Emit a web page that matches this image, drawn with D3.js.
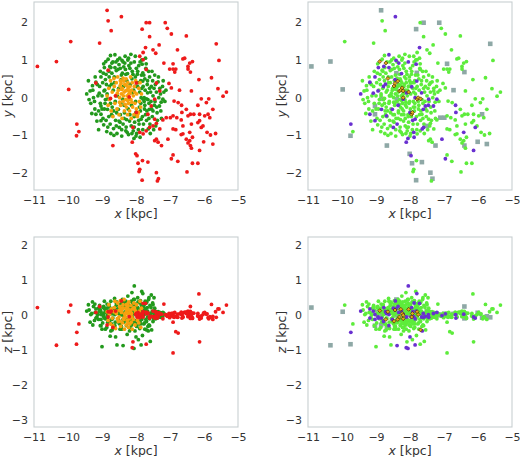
<!DOCTYPE html>
<html><head><meta charset="utf-8">
<script src="https://cdn.jsdelivr.net/npm/d3@7"></script>
<style>body{margin:0;background:#fff}svg{display:block;font-family:"DejaVu Sans",sans-serif}</style>
</head><body><svg id="c" width="520" height="457"></svg>
<script>
const xTicks = [-11,-10,-9,-8,-7,-6,-5];
const yTicks = [-2,-1,0,1,2];
const zTicks = [-3,-2,-1,0,1,2];

// stars: [x, y, z, class in right panels] ; L=lime, P=purple, S=grey square, D=diamond
const redStars = [
[-8.85,2.32,-0.28,'S'],[-8.43,2.15,0.41,'P'],[-8.82,2.04,0.10,'L'],[-8.73,1.78,0.12,'L'],
[-7.70,1.99,0.04,'L'],[-7.60,1.99,-0.05,'S'],[-7.14,1.99,0.02,'S'],[-7.82,1.82,0.06,'S'],
[-7.08,1.84,-0.03,'L'],[-6.96,1.69,0.05,'L'],[-6.52,1.64,0.08,'L'],[-7.60,1.62,-0.08,'L'],
[-9.07,1.45,0.25,'L'],[-9.92,1.49,0.29,'L'],[-10.34,0.96,-0.86,'S'],[-10.90,0.83,0.22,'S'],
[-5.64,1.43,-0.06,'S'],[-5.56,0.99,0.18,'L'],[-7.32,1.40,0.07,'L'],[-7.50,1.27,-0.04,'L'],
[-7.42,1.18,0.10,'L'],[-7.72,1.33,0.34,'P'],[-7.89,1.10,-0.02,'L'],[-6.78,1.27,0.03,'L'],
[-6.62,1.03,-0.06,'L'],[-6.57,1.05,0.09,'L'],[-6.42,0.92,0.04,'L'],[-6.34,0.96,-0.09,'L'],
[-6.47,0.83,0.12,'L'],[-6.91,0.90,0.02,'S'],[-7.18,0.92,0.32,'L'],[-7.01,0.76,-0.07,'L'],
[-6.91,0.76,0.06,'L'],[-6.83,0.76,-0.03,'L'],[-6.86,0.68,0.08,'L'],[-6.47,0.76,-0.04,'L'],
[-6.40,0.68,0.25,'S'],[-6.15,0.48,0.61,'L'],[-5.78,0.53,0.31,'L'],[-8.82,0.73,-0.05,'L'],
[-9.18,0.39,0.08,'L'],[-9.98,0.22,0.10,'S'],[-7.03,0.38,0.05,'L'],[-6.96,0.26,-0.02,'L'],
[-6.72,0.20,0.04,'S'],[-6.37,0.18,0.07,'L'],[-5.44,0.04,0.08,'L'],[-5.34,0.15,0.29,'L'],
[-5.59,0.24,0.18,'L'],[-6.08,-0.03,-0.02,'L'],[-5.86,-0.03,-0.10,'L'],[-5.93,-0.13,0.03,'L'],
[-6.76,-0.13,-0.51,'L'],[-6.66,-0.20,0.02,'P'],[-6.88,-0.09,-0.06,'L'],[-6.52,-0.31,0.05,'L'],
[-6.18,-0.20,-0.01,'L'],[-6.13,-0.44,-0.76,'L'],[-5.74,-0.31,-0.12,'L'],[-5.88,-0.44,-0.07,'S'],
[-6.30,-0.44,0.06,'L'],[-6.47,-0.48,-0.03,'L'],[-6.40,-0.44,0.11,'L'],[-6.65,-0.39,-0.08,'P'],
[-6.91,-0.48,-0.20,'L'],[-6.99,-0.53,0.04,'S'],[-6.80,-0.53,-0.05,'L'],[-6.67,-0.59,0.09,'L'],
[-7.11,-0.53,0.00,'S'],[-7.21,-0.59,-0.10,'L'],[-7.40,-0.68,0.07,'L'],[-7.45,-0.57,-0.03,'L'],
[-7.50,-0.75,0.12,'S'],[-7.60,-0.79,-0.06,'P'],[-7.30,-0.83,0.03,'L'],[-6.91,-0.83,-0.04,'L'],
[-6.62,-0.75,0.06,'L'],[-6.37,-0.70,-0.02,'L'],[-6.18,-0.66,0.05,'L'],[-6.08,-0.79,-0.08,'P'],
[-6.03,-0.75,0.02,'L'],[-5.83,-0.53,-0.04,'L'],[-5.98,-0.48,0.08,'L'],[-6.13,-0.61,-0.11,'L'],
[-5.91,-0.92,0.04,'L'],[-5.81,-0.99,-0.06,'L'],[-5.66,-0.95,0.10,'L'],[-5.74,-1.23,-0.03,'S'],
[-6.01,-1.17,0.07,'S'],[-6.13,-1.40,-0.05,'P'],[-6.42,-0.92,0.03,'P'],[-6.34,-1.05,-0.07,'L'],
[-6.52,-1.10,0.09,'L'],[-6.42,-1.14,-0.02,'L'],[-6.47,-1.20,0.05,'L'],[-6.40,-1.27,-0.09,'S'],
[-6.37,-1.34,0.02,'L'],[-6.62,-0.96,-0.04,'L'],[-6.67,-0.98,0.06,'L'],[-6.83,-0.85,-0.47,'L'],
[-7.06,-1.10,-0.01,'P'],[-7.40,-1.10,0.08,'L'],[-7.35,-1.18,-0.05,'L'],[-7.25,-1.27,0.03,'S'],
[-7.45,-1.14,-0.08,'L'],[-7.70,-0.88,-0.83,'L'],[-7.79,-0.96,0.10,'L'],[-7.89,-0.92,-0.04,'P'],
[-8.09,-0.79,-0.76,'L'],[-8.11,-1.18,-0.93,'P'],[-8.68,-1.27,-0.35,'S'],[-6.91,-1.52,-1.08,'L'],
[-6.96,-1.62,0.04,'P'],[-6.77,-1.69,-0.06,'L'],[-6.34,-1.74,0.05,'L'],[-6.18,-1.74,-0.03,'L'],
[-6.50,-1.97,0.07,'L'],[-8.01,-1.49,0.02,'S'],[-7.97,-1.54,-0.05,'P'],[-7.94,-1.74,0.08,'S'],
[-7.81,-1.67,-0.02,'L'],[-7.65,-1.71,0.05,'S'],[-7.89,-1.90,-0.07,'L'],[-7.91,-1.96,0.03,'L'],
[-7.40,-1.99,-0.04,'S'],[-7.34,-2.15,0.06,'S'],[-7.37,-2.21,-0.08,'L'],[-7.82,-2.19,0.01,'S'],
[-9.74,-0.70,-0.49,'P'],[-9.68,-0.90,-0.25,'L'],[-9.75,-1.01,-0.83,'S'],[-7.99,-0.39,0.05,'L'],
[-7.55,-0.22,-0.03,'P'],[-7.65,-0.44,0.07,'L'],[-7.45,-0.04,-0.06,'P'],[-7.30,0.18,0.04,'L'],
[-7.40,0.39,-0.02,'L'],[-7.70,0.75,0.09,'L'],[-7.79,1.01,-0.05,'L'],[-7.99,0.39,0.02,'L'],
[-7.79,1.20,0.34,'L'],[-8.60,0.05,0.12,'L'],[-8.75,-0.02,0.09,'L'],[-8.20,0.02,-0.04,'L']
];

const greenStars = [
[-9.45,0.10,0.12,'P'],[-9.40,0.45,0.30,'L'],[-9.35,0.18,-0.20,'L'],[-9.30,-0.42,0.05,'L'],
[-9.28,0.32,0.38,'L'],[-9.22,-0.10,-0.15,'L'],[-9.20,0.55,0.08,'L'],[-9.15,-0.62,-0.05,'L'],
[-9.10,-0.85,0.20,'L'],[-9.12,0.05,0.02,'L'],[-9.05,0.70,0.15,'L'],[-9.03,-0.44,-0.30,'S'],
[-9.03,-0.22,0.10,'S'],[-9.00,-0.30,-0.90,'L'],[-8.98,0.40,-0.22,'L'],[-8.95,0.90,0.25,'L'],
[-8.95,-0.72,0.05,'L'],[-8.92,0.20,0.18,'L'],[-8.90,-0.05,-0.10,'L'],[-8.88,0.62,0.08,'L'],
[-8.86,-0.90,-0.35,'L'],[-8.84,-0.03,0.00,'S'],[-8.82,1.02,0.12,'L'],[-8.80,-0.50,0.28,'L'],
[-8.78,0.30,-0.18,'P'],[-8.76,-0.70,-0.60,'L'],[-8.75,1.12,0.05,'L'],[-8.74,0.80,0.40,'L'],
[-8.72,0.36,0.10,'P'],[-8.70,-0.25,-0.42,'L'],[-8.68,0.95,-0.08,'L'],[-8.66,-0.82,0.16,'L'],
[-8.64,0.55,0.22,'L'],[-8.62,1.14,0.02,'P'],[-8.60,-0.60,-0.62,'L'],[-8.58,0.72,0.35,'L'],
[-8.56,-0.95,-0.85,'L'],[-8.55,0.05,0.14,'L'],[-8.52,-0.31,-0.12,'P'],[-8.50,0.88,0.06,'L'],
[-8.49,-0.79,0.20,'P'],[-8.48,1.05,-0.25,'L'],[-8.46,-0.45,0.32,'L'],[-8.44,0.48,0.15,'P'],
[-8.42,-1.02,-0.40,'L'],[-8.41,0.99,0.18,'P'],[-8.40,0.65,0.45,'S'],[-8.38,-0.70,-0.87,'P'],
[-8.36,0.82,-0.20,'L'],[-8.35,-0.20,0.25,'P'],[-8.33,0.92,0.08,'P'],[-8.32,1.10,0.30,'L'],
[-8.30,-0.88,0.10,'L'],[-8.28,-0.58,-0.30,'L'],[-8.25,0.64,0.12,'P'],[-8.24,1.00,0.55,'L'],
[-8.22,-0.98,-0.15,'L'],[-8.20,-0.04,0.03,'P'],[-8.18,0.78,-0.35,'L'],[-8.15,1.15,0.20,'L'],
[-8.14,-0.75,0.40,'L'],[-8.12,0.50,0.65,'L'],[-8.10,0.13,-0.05,'P'],[-8.05,0.95,0.84,'P'],
[-8.06,-1.08,-0.95,'P'],[-8.05,-0.50,0.15,'L'],[-8.03,0.30,-0.45,'L'],[-8.00,-0.39,-0.62,'P'],
[-7.96,0.62,0.10,'L'],[-7.95,0.29,0.22,'P'],[-7.93,-0.85,-0.70,'L'],[-7.92,0.85,0.15,'L'],
[-7.90,-0.25,0.05,'L'],[-7.88,-1.05,0.35,'P'],[-7.86,0.45,-0.25,'L'],[-7.85,0.00,-0.10,'P'],
[-7.85,-0.57,-0.85,'P'],[-7.83,1.00,0.68,'L'],[-7.82,0.89,0.12,'P'],[-7.80,0.44,0.62,'P'],
[-7.80,0.66,0.18,'S'],[-7.78,-0.70,0.25,'L'],[-7.75,-0.30,-0.22,'L'],[-7.73,0.20,0.40,'L'],
[-7.71,0.78,-0.12,'L'],[-7.66,0.13,-0.05,'P'],[-7.64,-0.83,-0.45,'P'],[-7.62,-0.15,0.50,'L'],
[-7.61,-0.31,0.05,'P'],[-7.60,0.55,-0.30,'L'],[-7.58,-0.95,-0.75,'L'],[-7.55,0.30,0.58,'L'],
[-7.52,-0.50,0.12,'L'],[-7.50,0.05,-0.18,'L'],[-7.46,-0.20,0.02,'P'],[-7.45,0.60,0.20,'L'],
[-7.42,-0.75,-0.10,'L'],[-7.40,0.15,0.08,'L'],[-7.38,-0.40,-0.08,'L'],[-7.35,0.42,0.10,'L'],
[-7.31,-0.22,0.05,'P'],[-7.28,0.10,-0.06,'L'],[-7.25,-0.55,0.07,'L'],[-7.22,0.30,-0.05,'L'],
[-7.21,-0.04,0.08,'P'],[-7.15,-0.10,0.02,'L'],
[-9.25,0.00,0.25,'L'],[-9.18,0.41,-0.08,'P'],[-9.18,-0.44,0.18,'P'],[-9.08,0.12,0.12,'P'],
[-9.05,-0.15,-0.30,'L'],[-9.03,0.55,0.02,'P'],[-9.03,-0.61,-0.12,'P'],[-8.94,0.18,-0.05,'P'],
[-8.93,-0.30,0.40,'L'],[-8.90,0.48,-0.40,'L'],[-8.88,-0.60,0.12,'L'],[-8.85,0.10,0.32,'L'],
[-8.84,-0.31,-0.08,'P'],[-8.80,0.70,-0.15,'L'],[-8.77,0.83,0.22,'P'],[-8.75,-0.15,0.18,'L'],
[-8.72,-0.45,-0.25,'L'],[-8.69,-0.48,0.05,'P'],[-8.67,0.20,-0.30,'L'],[-8.63,0.40,0.48,'L'],
[-8.61,-0.10,-0.20,'L'],[-8.59,0.95,0.15,'L'],[-8.57,-0.40,0.38,'L'],[-8.53,0.75,-0.10,'L'],
[-8.51,0.25,0.05,'L'],[-8.47,-0.65,-0.40,'L'],[-8.45,-0.15,0.22,'L'],[-8.43,0.60,-0.32,'L'],
[-8.39,-0.04,0.00,'S'],[-8.37,0.30,0.35,'L'],[-8.34,-0.40,-0.15,'L'],[-8.31,0.75,0.25,'L'],
[-8.29,-0.78,0.08,'L'],[-8.27,0.45,-0.12,'L'],[-8.23,-0.30,0.30,'L'],[-8.21,0.85,-0.22,'L'],
[-8.19,-0.62,-0.45,'L'],[-8.17,0.35,0.18,'L'],[-8.13,-0.20,-0.28,'L'],[-8.11,0.70,0.30,'L'],
[-8.08,-0.88,0.05,'L'],[-8.07,0.20,0.45,'L'],[-8.04,-0.65,-0.15,'L'],[-8.02,0.55,0.05,'L'],
[-8.01,-0.10,0.32,'L'],[-7.99,0.78,-0.30,'L'],[-7.97,-0.45,0.20,'L'],[-7.94,0.40,0.38,'L'],
[-7.91,-0.70,-0.25,'L'],[-7.89,0.15,-0.38,'L'],[-7.87,-0.35,0.42,'L'],[-7.84,0.60,0.28,'L'],
[-7.81,-0.50,-0.58,'L'],[-7.79,0.30,0.05,'L'],[-7.76,-0.10,0.30,'L'],[-7.74,0.50,-0.40,'L'],
[-7.72,-0.45,0.18,'L'],[-7.70,0.90,0.35,'L'],[-7.69,-0.60,-0.18,'L'],[-7.67,0.35,0.22,'L'],
[-7.65,-0.05,-0.32,'L'],[-7.63,0.70,0.45,'L'],[-7.59,-0.70,0.28,'L'],[-7.57,0.15,0.02,'L'],
[-7.54,-0.30,-0.42,'L'],[-7.51,0.45,0.35,'L'],[-7.48,-0.85,-0.10,'L'],[-7.47,0.25,0.50,'L'],
[-7.44,-0.10,0.12,'L'],[-7.37,-0.60,0.06,'L'],[-7.33,0.00,-0.05,'L'],[-7.30,0.25,0.08,'L'],
[-7.27,-0.35,0.04,'L'],[-7.18,0.15,0.05,'L'],
[-9.33,-0.15,0.02,'L'],[-9.27,0.20,-0.28,'L'],[-9.21,-0.30,0.32,'L'],[-9.14,0.35,0.05,'L'],
[-9.10,-0.35,-0.12,'L'],[-9.07,0.30,0.28,'L'],[-9.00,0.05,-0.40,'L'],[-8.97,-0.55,0.22,'L'],
[-8.96,0.65,-0.02,'L'],[-8.91,-0.15,0.08,'L'],[-8.87,0.35,0.20,'L'],[-8.83,-0.78,-0.20,'L'],
[-8.79,0.55,0.30,'L'],[-8.74,-0.95,-0.45,'L'],[-8.71,0.65,0.05,'L'],[-8.66,-0.35,0.12,'L'],
[-8.62,0.80,-0.30,'P'],[-8.58,-0.75,0.28,'L'],[-8.54,1.00,0.18,'L'],[-8.50,-0.62,-0.22,'L'],
[-8.46,0.78,0.02,'L'],[-8.42,-0.85,0.35,'L'],[-8.38,0.95,-0.12,'L'],[-8.35,-0.55,0.05,'L'],
[-8.30,0.62,0.40,'L'],[-8.26,-0.92,-0.55,'L'],[-8.22,1.05,0.10,'L'],[-8.18,-0.45,0.25,'L'],
[-8.15,0.92,-0.15,'L'],[-8.12,-0.95,0.12,'L'],[-8.09,0.62,-0.22,'L'],[-8.05,-0.78,0.45,'L'],
[-8.02,1.10,0.25,'L'],[-7.98,-0.95,-0.32,'L'],[-7.95,0.70,0.50,'L'],[-7.92,-0.60,0.10,'P'],
[-7.88,0.95,-0.18,'L'],[-7.86,-0.15,0.18,'L'],[-7.83,0.25,-0.12,'L'],[-7.80,-0.85,0.20,'L'],
[-7.77,0.60,-0.25,'L'],[-7.74,-0.20,0.05,'L'],[-7.72,1.05,0.15,'L'],[-7.68,-0.35,0.38,'L'],
[-7.66,0.45,0.12,'L'],[-7.62,-0.55,-0.28,'L'],[-7.60,0.25,-0.10,'L'],[-7.56,-0.10,0.22,'L'],
[-7.53,0.70,0.08,'L'],[-7.50,-0.35,0.30,'L'],[-7.43,0.35,-0.05,'L'],[-7.39,-0.25,0.06,'L'],
[-7.34,0.55,0.04,'L'],[-7.26,-0.12,-0.03,'L'],[-7.20,0.45,0.06,'L'],[-7.12,0.20,0.02,'L'],
[-8.93,0.80,-0.08,'P'],[-9.38,-0.05,0.15,'L'],[-8.65,-1.00,0.05,'L'],[-8.00,-1.02,-0.20,'L'],
[-8.89,0.96,0.13,'D'],[-8.71,0.92,-0.12,'D'],[-7.79,-0.04,0.10,'D'],[-7.76,0.00,0.02,'D'],
[-7.69,-0.03,-0.42,'D']
];

const orangeStars = [
[-8.85,0.05,0.10,'L'],[-8.82,-0.20,-0.15,'L'],[-8.80,0.25,0.30,'L'],[-8.78,-0.05,0.02,'L'],
[-8.75,0.45,-0.25,'L'],[-8.73,-0.35,0.18,'L'],[-8.70,0.15,-0.08,'L'],[-8.68,-0.50,-0.30,'L'],
[-8.65,0.51,0.10,'D'],[-8.64,0.30,0.22,'L'],[-8.62,-0.15,0.40,'L'],[-8.60,0.05,-0.38,'L'],
[-8.58,0.40,0.05,'L'],[-8.56,-0.30,0.12,'L'],[-8.54,0.55,0.35,'L'],[-8.52,0.20,-0.18,'L'],
[-8.50,-0.45,-0.05,'L'],[-8.48,0.00,0.25,'L'],[-8.47,0.31,-0.17,'D'],[-8.46,0.45,0.42,'L'],
[-8.45,-0.20,-0.32,'L'],[-8.44,0.38,0.15,'D'],[-8.43,0.10,0.08,'L'],[-8.41,-0.55,0.20,'L'],
[-8.40,0.25,-0.22,'L'],[-8.38,-0.10,0.30,'L'],[-8.36,0.44,-0.12,'D'],[-8.35,0.15,0.45,'L'],
[-8.34,-0.35,-0.40,'L'],[-8.33,0.35,0.02,'L'],[-8.31,0.18,-0.05,'D'],[-8.30,-0.05,0.20,'L'],
[-8.29,0.50,-0.28,'L'],[-8.28,-0.25,0.10,'L'],[-8.27,0.20,0.17,'D'],[-8.26,0.05,-0.15,'L'],
[-8.25,-0.45,0.32,'L'],[-8.24,0.40,0.25,'L'],[-8.23,0.26,0.05,'D'],[-8.22,-0.15,-0.35,'L'],
[-8.21,0.10,0.38,'L'],[-8.20,0.18,-0.10,'D'],[-8.20,0.00,0.00,'D'],[-8.19,-0.35,0.15,'L'],
[-8.18,0.30,-0.25,'L'],[-8.16,0.55,0.12,'L'],[-8.15,-0.05,0.28,'L'],[-8.14,-0.55,-0.20,'L'],
[-8.13,0.20,0.05,'L'],[-8.11,0.40,-0.40,'L'],[-8.10,-0.25,0.18,'L'],[-8.08,0.05,-0.12,'L'],
[-8.06,-0.45,0.35,'L'],[-8.05,0.30,0.22,'L'],[-8.04,0.15,0.17,'D'],[-8.03,-0.15,-0.28,'L'],
[-8.01,0.45,0.10,'L'],[-7.99,-0.30,0.02,'L'],[-7.98,0.10,0.30,'L'],[-7.96,-0.50,-0.15,'L'],
[-7.95,-0.44,-0.05,'D'],[-7.93,-0.39,0.05,'D'],[-7.92,0.25,-0.22,'L'],[-7.90,-0.10,0.12,'L'],
[-7.88,0.40,0.40,'L'],[-7.86,-0.25,-0.35,'L'],[-7.84,0.10,0.20,'L'],
[-8.42,0.22,0.12,'L'],[-8.37,0.05,-0.08,'L'],[-8.32,-0.18,0.05,'L'],[-8.28,0.32,0.30,'L'],
[-8.24,-0.08,-0.22,'L'],[-8.17,0.12,0.10,'L'],[-8.12,-0.12,-0.05,'L'],[-8.48,-0.12,0.15,'L'],
[-8.55,0.12,-0.10,'L'],[-8.38,0.52,0.20,'L']
];

const leftColor = {red:'#ee1a1a', green:'#22991c', orange:'#f6a10f'};
const rightColor = {L:'#5dec3b', P:'#6930d0', S:'#8ea8a6', D:'#e3a51c'};

const svg = d3.select('#c');
const frameColor = '#c8cfd1';
const textColor = '#333';

const panels = [
  {x0:34, x1:238, y0:2, y1:190, dim:1, dom:[-2.45,2.54], ticks:yTicks, lab:'y', side:'left'},
  {x0:308, x1:512, y0:2, y1:190, dim:1, dom:[-2.45,2.54], ticks:yTicks, lab:'y', side:'right'},
  {x0:34, x1:238, y0:237, y1:427, dim:2, dom:[-3.2,2.24], ticks:zTicks, lab:'z', side:'left'},
  {x0:308, x1:512, y0:237, y1:427, dim:2, dom:[-3.2,2.24], ticks:zTicks, lab:'z', side:'right'}
];
const fmt = d3.format('d');

panels.forEach((p,i) => {
  const x = d3.scaleLinear().domain([-11,-5]).range([p.x0,p.x1]);
  const y = d3.scaleLinear().domain(p.dom).range([p.y1,p.y0]);
  const g = svg.append('g');
  const cid = 'clip'+i;
  svg.append('clipPath').attr('id',cid).append('rect')
    .attr('x',p.x0).attr('y',p.y0).attr('width',p.x1-p.x0).attr('height',p.y1-p.y0);
  const pg = g.append('g').attr('clip-path',`url(#${cid})`);
  const r = 1.9;
  if (p.side==='left') {
    [['green',greenStars],['orange',orangeStars],['red',redStars]].forEach(([c,arr]) => {
      pg.selectAll(null).data(arr).enter().append('circle')
        .attr('cx',d=>x(d[0])).attr('cy',d=>y(d[p.dim])).attr('r',r)
        .attr('fill',leftColor[c]);
    });
  } else {
    const all = greenStars.concat(orangeStars, redStars);
    const sq = 4.6;
    pg.selectAll(null).data(all.filter(d=>d[3]==='S')).enter().append('rect')
      .attr('x',d=>x(d[0])-sq/2).attr('y',d=>y(d[p.dim])-sq/2).attr('width',sq).attr('height',sq)
      .attr('fill',rightColor.S);
    pg.selectAll(null).data(all.filter(d=>d[3]==='L')).enter().append('circle')
      .attr('cx',d=>x(d[0])).attr('cy',d=>y(d[p.dim])).attr('r',r).attr('fill',rightColor.L);
    pg.selectAll(null).data(all.filter(d=>d[3]==='P')).enter().append('circle')
      .attr('cx',d=>x(d[0])).attr('cy',d=>y(d[p.dim])).attr('r',r).attr('fill',rightColor.P);
    const dm = d3.symbol().type(d3.symbolSquare).size(8);
    pg.selectAll(null).data(all.filter(d=>d[3]==='D')).enter().append('path')
      .attr('d',dm)
      .attr('transform',d=>`translate(${x(d[0])},${y(d[p.dim])}) rotate(45)`)
      .attr('fill',rightColor.D).attr('stroke','#4a3500').attr('stroke-width',0.7);
  }
  g.append('rect').attr('x',p.x0).attr('y',p.y0).attr('width',p.x1-p.x0).attr('height',p.y1-p.y0)
    .attr('fill','none').attr('stroke',frameColor).attr('stroke-width',1.1);
  const ax = g.append('g').attr('transform',`translate(0,${p.y1})`)
    .call(d3.axisBottom(x).tickValues(xTicks).tickFormat(fmt).tickSize(0).tickPadding(6));
  const ay = g.append('g').attr('transform',`translate(${p.x0},0)`)
    .call(d3.axisLeft(y).tickValues(p.ticks).tickFormat(fmt).tickSize(0).tickPadding(6));
  [ax,ay].forEach(a => {
    a.select('.domain').remove();
    a.selectAll('text').attr('fill',textColor).style('font-size','11px').style('font-family','"DejaVu Sans",sans-serif');
  });
  const xl = g.append('text').attr('x',(p.x0+p.x1)/2).attr('y',p.y1+28)
    .attr('text-anchor','middle').attr('fill',textColor).style('font-size','12.5px');
  xl.append('tspan').style('font-style','italic').text('x');
  xl.append('tspan').text(' [kpc]');
  const ylx = p.x0-22, yly = (p.y0+p.y1)/2;
  const yl = g.append('text').attr('transform',`translate(${ylx},${yly}) rotate(-90)`)
    .attr('text-anchor','middle').attr('fill',textColor).style('font-size','12.5px');
  yl.append('tspan').style('font-style','italic').text(p.lab);
  yl.append('tspan').text(' [kpc]');
});
</script></body></html>
